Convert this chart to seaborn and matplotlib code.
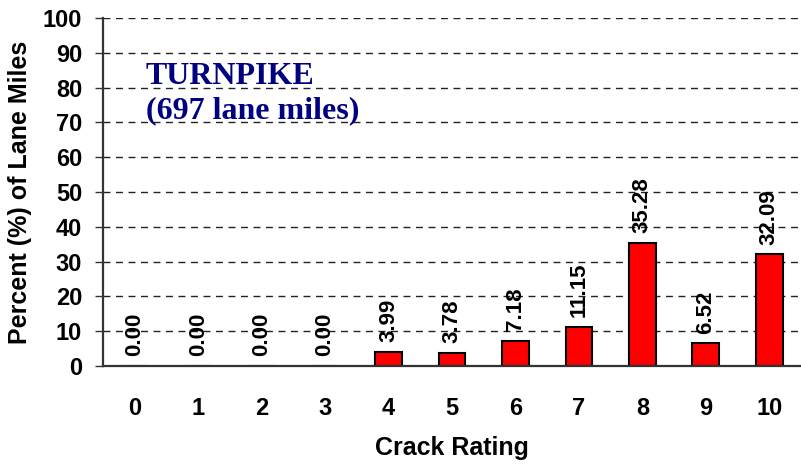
import numpy as np
import pandas as pd
import seaborn as sns
import matplotlib.pyplot as plt

ratings = ["0", "1", "2", "3", "4", "5", "6", "7", "8", "9", "10"]
percents = [0.00, 0.00, 0.00, 0.00, 3.99, 3.78, 7.18, 11.15, 35.28, 6.52, 32.09]
y_ticks = list(range(0, 101, 10))

SANS = ["Liberation Sans", "DejaVu Sans"]
SERIF = ["Liberation Serif", "DejaVu Serif"]


def main():
    sns.set_style("white")
    plt.rcParams["font.family"] = SANS
    plt.rcParams["text.color"] = "black"
    plt.rcParams["axes.labelcolor"] = "black"
    plt.rcParams["xtick.color"] = "black"
    plt.rcParams["ytick.color"] = "black"

    df = pd.DataFrame({"rating": ratings, "percent": percents})

    fig = plt.figure(figsize=(8.01, 4.66), dpi=100, facecolor="white")
    ax = fig.add_axes([0.1286, 0.2146, 0.8714, 0.7468])

    sns.barplot(data=df, x="rating", y="percent", order=ratings, color="#ff0000",
                edgecolor="black", linewidth=1.5, width=0.42, saturation=1, ax=ax)

    ax.bar_label(ax.containers[0], fmt="%.2f", rotation=90, padding=7,
                 fontsize=16, fontweight="bold", color="black")

    ax.set_ylim(0, 100)
    ax.set_xlim(-0.5, len(ratings) - 0.5)
    ax.set_yticks(y_ticks)
    ax.set_yticklabels([str(t) for t in y_ticks], fontsize=17, fontweight="bold")
    ax.set_xticks(range(len(ratings)))
    ax.set_xticklabels(ratings, fontsize=17, fontweight="bold")
    ax.set_xticks(np.arange(-0.5, len(ratings), 1), minor=True)
    ax.tick_params(axis="x", which="major", length=0, pad=22)
    ax.tick_params(axis="x", which="minor", length=7, width=1.2, color="#333333", direction="out")
    ax.tick_params(axis="y", which="major", length=6, width=1.0, color="#333333", pad=9, left=True)

    ax.yaxis.grid(True, linestyle=(0, (5, 4)), color="#222222", linewidth=1.0)
    ax.set_axisbelow(True)
    for side in ["top", "right"]:
        ax.spines[side].set_visible(False)
    for side in ["left", "bottom"]:
        ax.spines[side].set_color("#333333")
        ax.spines[side].set_linewidth(1.6)

    ax.set_xlabel("Crack Rating", fontsize=18, fontweight="bold", labelpad=12)
    ax.set_ylabel("Percent (%) of Lane Miles", fontsize=18, fontweight="bold", labelpad=8)

    fig.text(0.182, 0.868, "TURNPIKE\n(697 lane miles)", color="#000080",
             fontsize=23, fontweight="bold", family=SERIF, va="top", ha="left",
             linespacing=1.25)

    fig.savefig("out.png", dpi=100, facecolor="white")
    plt.close(fig)


if __name__ == "__main__":
    main()
